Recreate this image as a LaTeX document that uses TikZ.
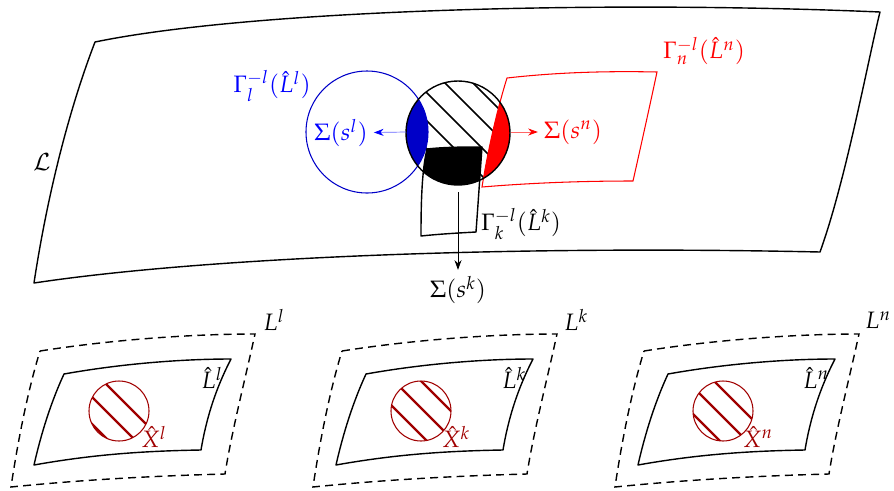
\documentclass[tikz,border=0pt]{standalone}
\usepackage{mathpazo}
\usetikzlibrary{arrows.meta}
\definecolor{lensblue}{HTML}{0000C8}
\definecolor{hatchred}{HTML}{A00000}

\begin{document}
\begin{tikzpicture}[x=0.02cm,y=-0.02cm,>={Stealth[length=5.5pt,width=4pt]},
 edge/.style={thick,line join=round},
 hatch/.style={line width=1pt},
 xhatch/.style={line width=1.4pt,hatchred},
 xdisc/.style={hatchred,semithick},
 dashsheet/.style={thick,dash pattern=on 4.5pt off 3pt},
 lbl/.style={font=\fontsize{13.5}{16}\selectfont}]
\useasboundingbox (0,0) rectangle (894,491);

% the big sheet
\draw[edge] (95,42) .. controls (250,10) and (600,0) .. (880,12)
 .. controls (868,60) and (846,180) .. (820,252)
 .. controls (500,245) and (200,258) .. (34,283)
 .. controls (45,210) and (65,120) .. cycle;
\node[lbl] (Lcal) at (42,162) {$\mathcal{L}$};

\coordinate (disc) at (458,133);
\def\quadk{(427,149) .. controls (445,147) and (465,147) .. (482,147)
 .. controls (480,175) and (478,205) .. (476,232)
 .. controls (458,233) and (440,234) .. (421,236)
 .. controls (421,200) and (422,170) .. cycle}
\def\quadn{(507,78) .. controls (560,72) and (610,71) .. (657,72)
 .. controls (650,105) and (640,150) .. (633,181)
 .. controls (580,181) and (530,183) .. (482,187)
 .. controls (488,150) and (497,110) .. cycle}

% hatch inside the disc
\begin{scope}
 \clip (disc) circle (52);
 \foreach \c in {278,306,...,418}
  \draw[hatch] (\c+40,40) -- (\c+220,220);
 \fill \quadk;
 \fill[red] \quadn;
 \fill[lensblue] (367,132) circle (61);
\end{scope}
\draw[edge] \quadk;
\draw[lensblue,semithick] (367,132) circle (61);
\draw[red,semithick] \quadn;
\draw[edge] (disc) circle (52);

% arrows out of the disc
\coordinate (discW) at (406,132);
\coordinate (discE) at (511,132);
\coordinate (discS) at (458,192);
\node[lbl,blue] (sl) at (341,133) {$\Sigma(s^l)$};
\node[lbl,red] (sn) at (573,132) {$\Sigma(s^n)$};
\node[lbl] (sk) at (458,290) {$\Sigma(s^k)$};
\draw[blue!60,-{Stealth[length=5.5pt,width=4pt,blue]}] (discW) -- (sl);
\draw[red!60,-{Stealth[length=5.5pt,width=4pt,red]}] (discE) -- (sn);
\draw[->] (discS) -- (sk);

\node[lbl,blue] (gl) at (272,86) {$\Gamma_l^{-l}(\hat{L}^l)$};
\node[lbl,red] (gn) at (704,51) {$\Gamma_n^{-l}(\hat{L}^n)$};
\node[lbl] (gk) at (521,224) {$\Gamma_k^{-l}(\hat{L}^k)$};

% the three local sheets
\foreach \dx/\lab/\ph in {0/l/14,302/k/30,604/n/21} {
 \begin{scope}[shift={(\dx,0)}]
  \draw[dashsheet] (40,351) .. controls (110,340) and (190,334) .. (255,334)
   .. controls (245,380) and (232,430) .. (225,474)
   .. controls (150,476) and (80,480) .. (11,487)
   .. controls (18,440) and (28,390) .. cycle;
  \draw[edge] (64,374) .. controls (120,364) and (180,359) .. (231,359)
   .. controls (215,390) and (206,420) .. (201,450)
   .. controls (140,451) and (90,455) .. (34,465)
   .. controls (42,430) and (52,400) .. cycle;
  \begin{scope}
   \clip (119,411) circle (30);
   \foreach \o in {0,27,54}
    \draw[xhatch] (119+\ph-\o-40,371) -- (119+\ph-\o+40,451);
  \end{scope}
  \draw[xdisc] (119,411) circle (30);
  \node[lbl] (L\lab) at (274,320) {$L^\lab$};
  \node[lbl] (Lh\lab) at (212,378) {$\hat{L}^\lab$};
  \node[lbl,hatchred] (X\lab) at (154,437) {$\hat{X}^\lab$};
 \end{scope}
}
\end{tikzpicture}
\end{document}
